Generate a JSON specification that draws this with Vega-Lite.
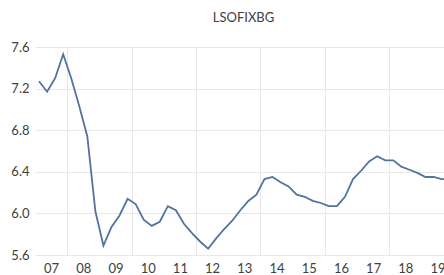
{
  "$schema": "https://vega.github.io/schema/vega-lite/v6.json",
  "autosize": {"type": "none"},
  "width": 409,
  "height": 208,
  "padding": {"left": 35, "top": 47, "right": 0, "bottom": 20},
  "background": "#ffffff",
  "config": {"view": {"stroke": null}, "font": "Lato"},
  "title": {
    "text": "LSOFIXBG",
    "anchor": "middle",
    "dx": 4,
    "offset": 6,
    "baseline": "alphabetic",
    "font": "Lato",
    "fontSize": 13,
    "fontWeight": "normal",
    "color": "#404040"
  },
  "data": {
    "values": [
      {"t": 2007.125, "v": 7.27}, {"t": 2007.375, "v": 7.17}, {"t": 2007.625, "v": 7.30}, {"t": 2007.875, "v": 7.53},
      {"t": 2008.125, "v": 7.30}, {"t": 2008.375, "v": 7.03}, {"t": 2008.625, "v": 6.74}, {"t": 2008.875, "v": 6.02},
      {"t": 2009.125, "v": 5.69}, {"t": 2009.375, "v": 5.87}, {"t": 2009.625, "v": 5.98}, {"t": 2009.875, "v": 6.14},
      {"t": 2010.125, "v": 6.09}, {"t": 2010.375, "v": 5.94}, {"t": 2010.625, "v": 5.88}, {"t": 2010.875, "v": 5.92},
      {"t": 2011.125, "v": 6.07}, {"t": 2011.375, "v": 6.03}, {"t": 2011.625, "v": 5.90}, {"t": 2011.875, "v": 5.81},
      {"t": 2012.125, "v": 5.73}, {"t": 2012.375, "v": 5.66}, {"t": 2012.625, "v": 5.76}, {"t": 2012.875, "v": 5.85},
      {"t": 2013.125, "v": 5.93}, {"t": 2013.375, "v": 6.03}, {"t": 2013.625, "v": 6.12}, {"t": 2013.875, "v": 6.18},
      {"t": 2014.125, "v": 6.33}, {"t": 2014.375, "v": 6.35}, {"t": 2014.625, "v": 6.30}, {"t": 2014.875, "v": 6.26},
      {"t": 2015.125, "v": 6.18}, {"t": 2015.375, "v": 6.16}, {"t": 2015.625, "v": 6.12}, {"t": 2015.875, "v": 6.10},
      {"t": 2016.125, "v": 6.07}, {"t": 2016.375, "v": 6.07}, {"t": 2016.625, "v": 6.16}, {"t": 2016.875, "v": 6.33},
      {"t": 2017.125, "v": 6.41}, {"t": 2017.375, "v": 6.50}, {"t": 2017.625, "v": 6.55}, {"t": 2017.875, "v": 6.51},
      {"t": 2018.125, "v": 6.51}, {"t": 2018.375, "v": 6.45}, {"t": 2018.625, "v": 6.42}, {"t": 2018.875, "v": 6.39},
      {"t": 2019.125, "v": 6.35}, {"t": 2019.375, "v": 6.35}, {"t": 2019.625, "v": 6.33}, {"t": 2019.875, "v": 6.33}
    ]
  },
  "mark": {"type": "line", "color": "#52739e", "strokeWidth": 1.8, "clip": true, "interpolate": "linear"},
  "encoding": {
    "x": {
      "field": "t",
      "type": "quantitative",
      "scale": {"domain": [2007.0, 2019.7], "nice": false, "zero": false},
      "axis": {
        "title": null,
        "values": [2007, 2007.5, 2008, 2008.5, 2009, 2009.5, 2010, 2010.5, 2011, 2011.5, 2012, 2012.5, 2013, 2013.5, 2014, 2014.5, 2015, 2015.5, 2016, 2016.5, 2017, 2017.5, 2018, 2018.5, 2019, 2019.5],
        "labelExpr": "datum.value % 1 == 0.5 ? pad(floor(datum.value) % 100, 2, '0', 'left') : ''",
        "labelOverlap": false,
        "labelBound": false,
        "labelFlush": false,
        "labelFont": "Lato",
        "labelFontSize": 13,
        "labelColor": "#404040",
        "labelPadding": 7,
        "ticks": false,
        "domain": false,
        "grid": true,
        "gridColor": "#e8e8e8",
        "gridWidth": 1,
        "gridOpacity": {"condition": {"test": "datum.value % 2 == 0 && datum.value > 2007", "value": 1}, "value": 0}
      }
    },
    "y": {
      "field": "v",
      "type": "quantitative",
      "scale": {"domain": [5.6, 7.6], "nice": false, "zero": false},
      "axis": {
        "title": null,
        "values": [5.6, 6.0, 6.4, 6.8, 7.2, 7.6],
        "format": ".1f",
        "labelFont": "Lato",
        "labelFontSize": 13,
        "labelColor": "#404040",
        "labelPadding": 6,
        "ticks": false,
        "domain": false,
        "grid": true,
        "gridColor": "#e8e8e8",
        "gridWidth": 1
      }
    }
  }
}
